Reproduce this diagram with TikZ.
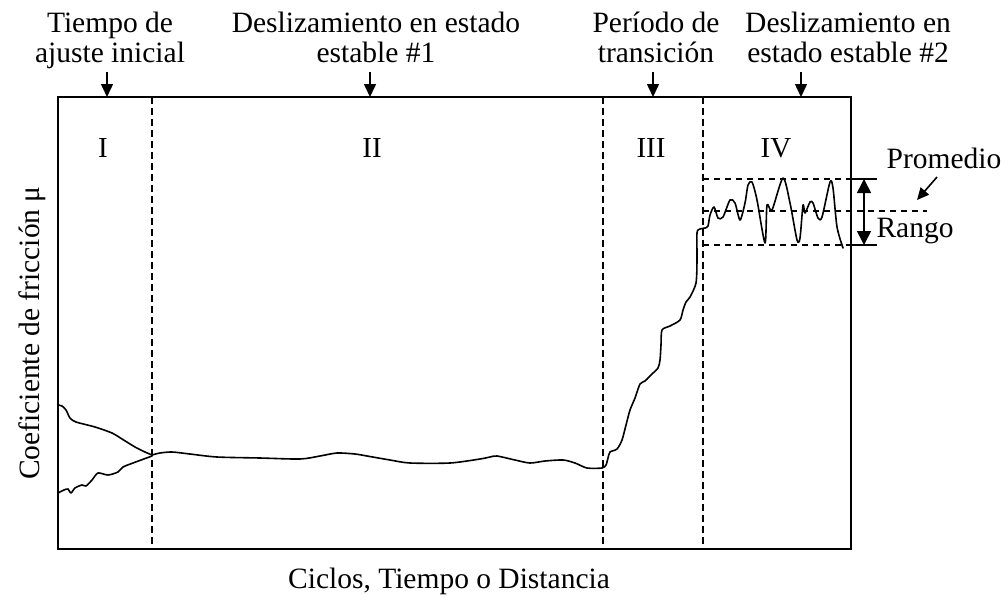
\documentclass[tikz,border=0pt]{standalone}
\usepackage{fontspec}
\setmainfont{Liberation Serif}
\usetikzlibrary{arrows.meta}
\begin{document}
\begin{tikzpicture}[x=1pt,y=-1pt,
  lbl/.style={font=\fontsize{29.5}{30}\selectfont, inner sep=0pt, align=center, anchor=base},
  numlbl/.style={font=\fontsize{29}{30}\selectfont, inner sep=0pt, anchor=base},
  axlbl/.style={font=\fontsize{29.5}{32}\selectfont, inner sep=0pt, anchor=base},
  frame/.style={line width=1.9pt},
  phase/.style={line width=1.8pt, dash pattern=on 7pt off 4pt},
  guide/.style={line width=1.1pt, dash pattern=on 6pt off 5pt},
  curve/.style={line width=1.6pt, line join=round, line cap=round},
  downarrow/.style={line width=1.5pt, -{Triangle[length=13pt,width=12pt]}},
  rangearrow/.style={line width=1.7pt, {Triangle[length=14pt,width=14pt]}-{Triangle[length=14pt,width=14pt]}},
  ptr/.style={line width=1.6pt, -{Triangle[length=12pt,width=11pt]}}
]
\useasboundingbox (0,0) rectangle (1008,597);

% frame and phase boundaries
\coordinate (bl) at (58,549);
\coordinate (tr) at (851,97);
\draw[frame] (bl) rectangle (tr);
\coordinate (d1t) at (152,97);  \coordinate (d1b) at (152,549);
\coordinate (d2t) at (603,97);  \coordinate (d2b) at (603,549);
\coordinate (d3t) at (703,97);  \coordinate (d3b) at (703,549);
\draw[phase] (d1t) -- (d1b);
\draw[phase] (d2t) -- (d2b);
\draw[phase] (d3t) -- (d3b);

% top labels (base = baseline of the last line)
\node[lbl] (l1) at (110,62) {Tiempo de\\ajuste inicial};
\node[lbl] (l2) at (376,62) {Deslizamiento en estado\\estable \#1};
\node[lbl] (l3) at (656,62) {Período de\\transición};
\node[lbl] (l4) at (848,62) {Deslizamiento en\\estado estable \#2};
\coordinate (a1s) at (107,72);  \coordinate (a1e) at (107,97);
\coordinate (a2s) at (370,72);  \coordinate (a2e) at (370,97);
\coordinate (a3s) at (653,72);  \coordinate (a3e) at (653,97);
\coordinate (a4s) at (801,72);  \coordinate (a4e) at (801,97);
\draw[downarrow] (a1s) -- (a1e);
\draw[downarrow] (a2s) -- (a2e);
\draw[downarrow] (a3s) -- (a3e);
\draw[downarrow] (a4s) -- (a4e);

% roman numerals
\node[numlbl] (r1) at (103,157) {I};
\node[numlbl] (r2) at (372,157) {II};
\node[numlbl] (r3) at (651,157) {III};
\node[numlbl] (r4) at (776,157) {IV};

% axis labels
\node[axlbl] (xl) at (449,588) {Ciclos, Tiempo o Distancia};
\node[axlbl, rotate=90] (yl) at (39,333) {Coeficiente de fricción μ};

% range / average guides
\coordinate (gt0) at (703,179); \coordinate (gt1) at (851,179); \coordinate (gt2) at (877,179);
\coordinate (gb0) at (703,245); \coordinate (gb1) at (851,245); \coordinate (gb2) at (877,245);
\coordinate (gm0) at (703,211); \coordinate (gm1) at (927,211);
\draw[guide] (gt0) -- (gt1);
\draw[guide] (gb0) -- (gb1);
\draw[guide] (gm0) -- (gm1);
\draw[line width=1.7pt] (gt1) -- (gt2);
\draw[line width=1.7pt] (gb1) -- (gb2);
\coordinate (rt) at (864,179); \coordinate (rb) at (864,245);
\draw[rangearrow] (rt) -- (rb);
\node[axlbl] (prom) at (944,168) {Promedio};
\node[axlbl] (rango) at (915,237) {Rango};
\coordinate (ps) at (937,177); \coordinate (pe) at (917,200);
\draw[ptr] (ps) -- (pe);

% friction curves
\draw[curve] plot[smooth, tension=0.45] coordinates {
 (58,405) (62,406) (66,410) (70,418) (76,422) (95,427) (112,433) (122,439)
 (135,447) (145,452) (152,455)};
\draw[curve] plot[smooth, tension=0.45] coordinates {
 (58,493) (64,490) (68,489) (71,493) (75,488) (82,485) (86,486) (92,480)
 (98,473) (108,475) (118,472) (123,467) (133,463) (152,456)};
\draw[curve] plot[smooth, tension=0.45] coordinates {
 (152,455) (160,453) (172,452) (190,454) (217,457) (260,458) (300,459)
 (320,456) (337,453) (355,454) (367,456) (390,460) (410,463) (450,463)
 (480,459) (490,457) (497,456) (515,460) (530,463) (545,461) (563,460)
 (575,463) (587,468) (602,468) (606,465) (608,458) (610,452) (617,449)
 (622,440) (626,425) (630,410) (635,398) (640,384) (645,381) (652,374)
 (658,368) (660,360) (661,345) (662,330) (670,326) (680,320) (683,310)
 (686,302) (690,297) (696,283) (697,260) (697,233) (700,229) (705,228)
 (708,226) (710,215) (714,207) (718,218) (723,217) (730,200) (735,203)
 (740,220) (745,203) (748,185) (752,182) (757,200) (765,243) (767,205)
 (772,210) (783,178) (790,203) (797,240) (800,238) (803,205) (805,213)
 (810,202) (813,203) (818,218) (822,217) (830,182) (833,188) (837,227)
 (843,248)};
\end{tikzpicture}
\end{document}
